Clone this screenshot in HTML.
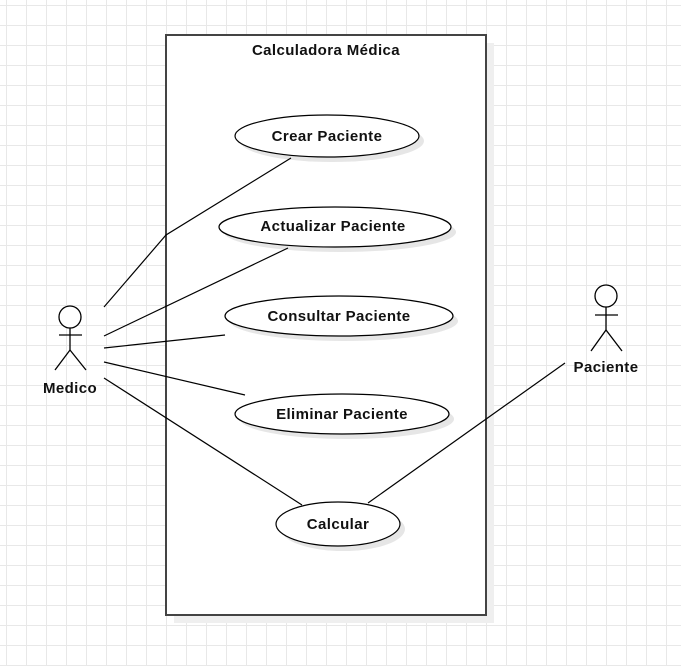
<!DOCTYPE html>
<html><head><meta charset="utf-8"><style>
html,body{margin:0;padding:0;background:#fff;}
svg{display:block;}
text{font-family:"Liberation Sans",sans-serif;font-size:15px;font-weight:bold;letter-spacing:0.4px;fill:#111;}
</style></head><body>
<svg width="681" height="666" viewBox="0 0 681 666" xmlns="http://www.w3.org/2000/svg">
<defs>
<pattern id="g" x="6" y="5" width="20" height="20" patternUnits="userSpaceOnUse">
<path d="M0.5 0V20M0 0.5H20" stroke="#e8e8e8" stroke-width="1" fill="none"/>
</pattern>
</defs>
<rect width="681" height="666" fill="url(#g)"/>
<rect x="174" y="43" width="320" height="580" fill="#efefef"/>
<rect x="166" y="35" width="320" height="580" fill="#fff" stroke="#444" stroke-width="2"/>
<text x="326" y="55" text-anchor="middle">Calculadora Médica</text>
<g fill="#e6e6e6">
<ellipse cx="332" cy="141" rx="92" ry="21"/>
<ellipse cx="340" cy="232" rx="116" ry="20"/>
<ellipse cx="344" cy="321" rx="114" ry="20"/>
<ellipse cx="347" cy="419" rx="107" ry="20"/>
<ellipse cx="343" cy="529" rx="62" ry="22"/>
</g>
<g fill="#fff" stroke="#000" stroke-width="1.2">
<ellipse cx="327" cy="136" rx="92" ry="21"/>
<ellipse cx="335" cy="227" rx="116" ry="20"/>
<ellipse cx="339" cy="316" rx="114" ry="20"/>
<ellipse cx="342" cy="414" rx="107" ry="20"/>
<ellipse cx="338" cy="524" rx="62" ry="22"/>
</g>
<text x="327" y="141" text-anchor="middle">Crear Paciente</text>
<text x="333" y="231" text-anchor="middle">Actualizar Paciente</text>
<text x="339" y="321" text-anchor="middle">Consultar Paciente</text>
<text x="342" y="419" text-anchor="middle">Eliminar Paciente</text>
<text x="338" y="529" text-anchor="middle">Calcular</text>
<g stroke="#000" stroke-width="1.2" fill="none">
<polyline points="104,307 166,235 291,158"/>
<line x1="104" y1="336" x2="288" y2="248"/>
<line x1="104" y1="348" x2="225" y2="335"/>
<line x1="104" y1="362" x2="245" y2="395"/>
<line x1="104" y1="378" x2="302" y2="505"/>
<line x1="368" y1="503" x2="565" y2="363"/>
</g>
<g stroke="#000" stroke-width="1.3" fill="#fff">
<circle cx="70" cy="317" r="11"/>
<line x1="70" y1="328" x2="70" y2="350"/>
<line x1="59" y1="335" x2="82" y2="335"/>
<polyline points="55,370 70,350 86,370" fill="none"/>
</g>
<text x="70" y="393" text-anchor="middle">Medico</text>
<g stroke="#000" stroke-width="1.3" fill="#fff">
<circle cx="606" cy="296" r="11"/>
<line x1="606" y1="307" x2="606" y2="330"/>
<line x1="595" y1="315" x2="618" y2="315"/>
<polyline points="591,351 606,330 622,351" fill="none"/>
</g>
<text x="606" y="372" text-anchor="middle">Paciente</text>
</svg>
</body></html>
